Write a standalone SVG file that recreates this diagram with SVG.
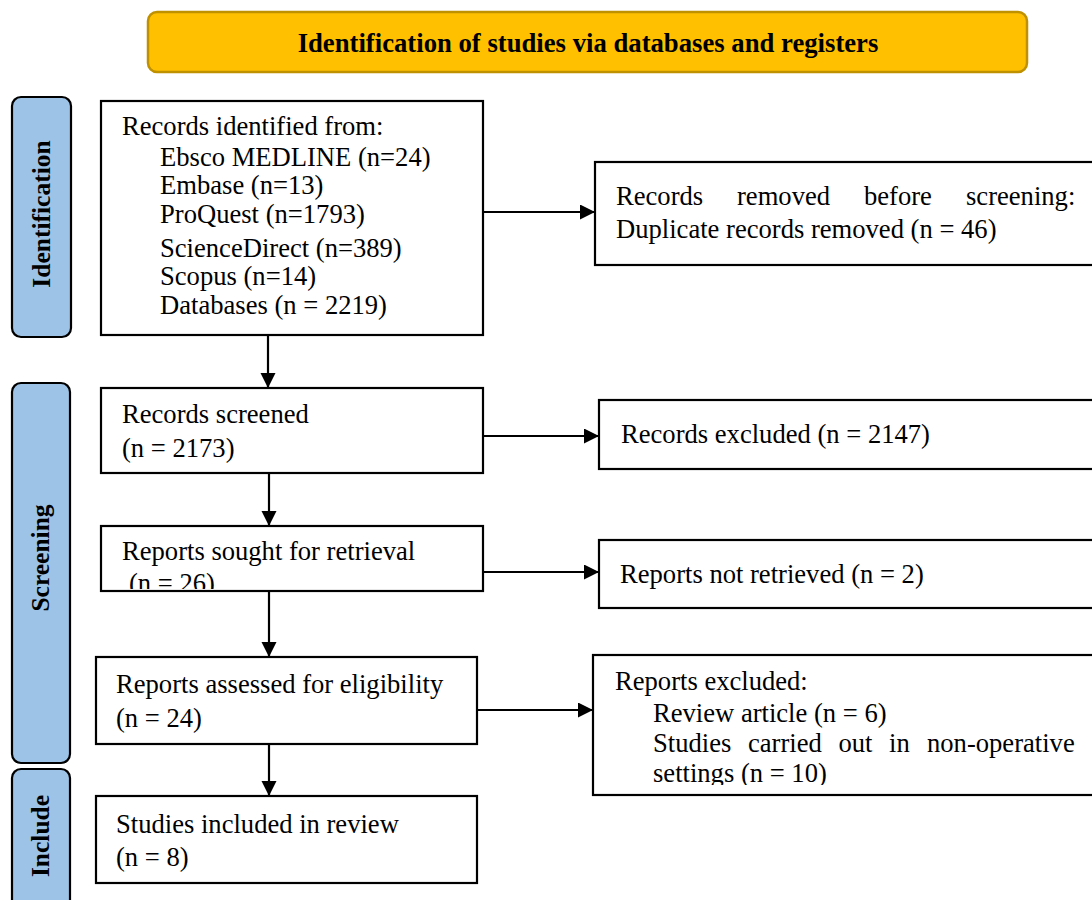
<svg xmlns="http://www.w3.org/2000/svg" width="1092" height="900" viewBox="0 0 1092 900">
<style>
.t{font-family:"Liberation Serif","Times New Roman",serif;font-size:26.6px;fill:#000}
.b{font-family:"Liberation Serif","Times New Roman",serif;font-weight:bold;fill:#000}
.box{fill:#fff;stroke:#000;stroke-width:2.2}
.side{fill:#9DC3E6;stroke:#000;stroke-width:2.2}
.c{stroke:#000;stroke-width:2.2;fill:none}
</style>
<defs>
<marker id="ah" markerUnits="userSpaceOnUse" markerWidth="16" markerHeight="16" refX="15" refY="7.5" orient="auto">
<path d="M0,0 L15,7.5 L0,15 Z" fill="#000"/>
</marker>
<clipPath id="clipSought"><rect x="100" y="520" width="390" height="69"/></clipPath>
<clipPath id="clipExcl"><rect x="590" y="650" width="510" height="135"/></clipPath>
</defs>

<g id="banner">
<rect x="148" y="12" width="879" height="60" rx="9" fill="#FFC000" stroke="#BF9000" stroke-width="2.5"/>
<text class="b" x="588" y="52" font-size="26.7" text-anchor="middle">Identification of studies via databases and registers</text>
</g>

<g id="label-identification">
<rect class="side" x="12" y="97" width="59" height="240" rx="9"/>
<text class="b" font-size="25.5" text-anchor="middle" transform="translate(50,214) rotate(-90)">Identification</text>
</g>
<g id="label-screening">
<rect class="side" x="12" y="383" width="58" height="380" rx="9"/>
<text class="b" font-size="25.5" text-anchor="middle" transform="translate(49,558) rotate(-90)">Screening</text>
</g>
<g id="label-include">
<rect class="side" x="12" y="769" width="58" height="145" rx="9"/>
<text class="b" font-size="25.5" text-anchor="middle" transform="translate(49,836) rotate(-90)">Include</text>
</g>

<g id="records-identified">
<rect class="box" x="101" y="101" width="382" height="234"/>
<text class="t" x="122" y="135">Records identified from:</text>
<text class="t" x="160" y="166">Ebsco MEDLINE (n=24)</text>
<text class="t" x="160" y="194">Embase (n=13)</text>
<text class="t" x="160" y="223">ProQuest (n=1793)</text>
<text class="t" x="160" y="257">ScienceDirect (n=389)</text>
<text class="t" x="160" y="285">Scopus (n=14)</text>
<text class="t" x="160" y="314">Databases (n = 2219)</text>
</g>

<g id="records-removed">
<rect class="box" x="595" y="162" width="510" height="103"/>
<text class="t" y="205"><tspan x="616">Records</tspan><tspan x="737">removed</tspan><tspan x="864">before</tspan><tspan x="966">screening:</tspan></text>
<text class="t" x="616" y="238">Duplicate records removed (n = 46)</text>
</g>

<g id="records-screened">
<rect class="box" x="101" y="388" width="382" height="85"/>
<text class="t" x="122" y="423">Records screened</text>
<text class="t" x="122" y="457">(n = 2173)</text>
</g>

<g id="records-excluded">
<rect class="box" x="599" y="400" width="510" height="69"/>
<text class="t" x="621" y="443">Records excluded (n = 2147)</text>
</g>

<g id="reports-sought">
<rect class="box" x="101" y="526" width="382" height="65"/>
<text class="t" x="122" y="560">Reports sought for retrieval</text>
<text class="t" x="129" y="592" clip-path="url(#clipSought)">(n = 26)</text>
</g>

<g id="reports-not-retrieved">
<rect class="box" x="599" y="540" width="510" height="68"/>
<text class="t" x="620" y="583">Reports not retrieved (n = 2)</text>
</g>

<g id="reports-assessed">
<rect class="box" x="96" y="657" width="381" height="87"/>
<text class="t" x="116" y="693">Reports assessed for eligibility</text>
<text class="t" x="116" y="727">(n = 24)</text>
</g>

<g id="reports-excluded">
<rect class="box" x="593" y="655" width="510" height="140"/>
<g clip-path="url(#clipExcl)">
<text class="t" x="615" y="690">Reports excluded:</text>
<text class="t" x="653" y="722">Review article (n = 6)</text>
<text class="t" y="752"><tspan x="653">Studies</tspan><tspan x="748">carried</tspan><tspan x="838.5">out</tspan><tspan x="889">in</tspan><tspan x="927">non-operative</tspan></text>
<text class="t" x="653" y="782">settings (n = 10)</text>
</g>
</g>

<g id="studies-included">
<rect class="box" x="96" y="796" width="381" height="87"/>
<text class="t" x="116" y="833">Studies included in review</text>
<text class="t" x="116" y="866">(n = 8)</text>
</g>

<g id="connectors">
<line class="c" x1="483" y1="212" x2="595" y2="212" marker-end="url(#ah)"/>
<line class="c" x1="268" y1="335" x2="268" y2="388" marker-end="url(#ah)"/>
<line class="c" x1="483" y1="436" x2="599" y2="436" marker-end="url(#ah)"/>
<line class="c" x1="269" y1="473" x2="269" y2="526" marker-end="url(#ah)"/>
<line class="c" x1="483" y1="572" x2="599" y2="572" marker-end="url(#ah)"/>
<line class="c" x1="269" y1="591" x2="269" y2="657" marker-end="url(#ah)"/>
<line class="c" x1="477" y1="710" x2="593" y2="710" marker-end="url(#ah)"/>
<line class="c" x1="269" y1="744" x2="269" y2="796" marker-end="url(#ah)"/>
</g>
</svg>
